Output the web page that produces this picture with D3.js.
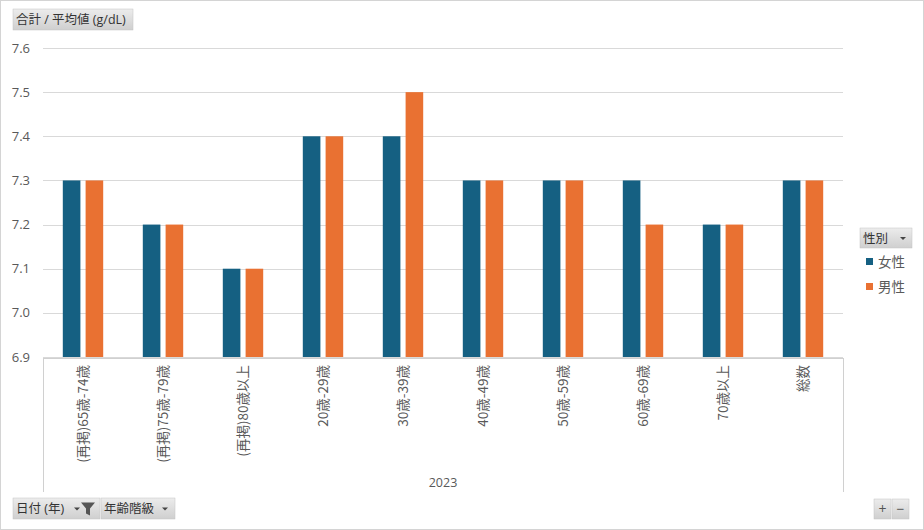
<!DOCTYPE html>
<html>
<head>
<meta charset="utf-8">
<script src="https://cdn.jsdelivr.net/npm/d3@7"></script>
<style>
  body { margin: 0; background: #fff; }
  svg { display: block; font-family: "Open Sans", "Noto Sans CJK JP", sans-serif; }
</style>
</head>
<body>
<div id="chart"></div>
<script>
// data
const categories = ["(再掲)65歳-74歳", "(再掲)75歳-79歳", "(再掲)80歳以上", "20歳-29歳", "30歳-39歳",
    "40歳-49歳", "50歳-59歳", "60歳-69歳", "70歳以上", "総数"];
const seriesNames = ["女性", "男性"];
const female = [7.3, 7.2, 7.1, 7.4, 7.4, 7.3, 7.3, 7.3, 7.2, 7.3];
const male = [7.3, 7.2, 7.1, 7.4, 7.5, 7.3, 7.3, 7.2, 7.2, 7.3];
const yTicks = [6.9, 7.0, 7.1, 7.2, 7.3, 7.4, 7.5, 7.6];
const yearLabel = "2023";

const width = 924, height = 530;
const colors = ["#156082", "#E97132"];

const svg = d3.select("#chart").append("svg")
    .attr("width", width)
    .attr("height", height);

const defs = svg.append("defs");
const grad = defs.append("linearGradient")
    .attr("id", "btn").attr("x1", 0).attr("y1", 0).attr("x2", 0).attr("y2", 1);
grad.append("stop").attr("offset", "0%").attr("stop-color", "#ececec");
grad.append("stop").attr("offset", "100%").attr("stop-color", "#cfcfcf");

// outer frame
svg.append("rect")
    .attr("x", 0.5).attr("y", 0.5)
    .attr("width", width - 1).attr("height", height - 1)
    .attr("fill", "#fff").attr("stroke", "#d4d4d4");

const plot = { left: 43, right: 843, top: 48, bottom: 357 };

const x = d3.scaleBand()
    .domain(categories)
    .range([plot.left, plot.right]);

const y = d3.scaleLinear()
    .domain([6.9, 7.6])
    .range([plot.bottom, plot.top]);

// gridlines
svg.append("g")
    .selectAll("line")
    .data(yTicks)
    .enter()
    .append("line")
    .attr("x1", plot.left).attr("x2", plot.right)
    .attr("y1", d => Math.round(y(d)) + 0.5)
    .attr("y2", d => Math.round(y(d)) + 0.5)
    .attr("stroke", "#d9d9d9");

// y axis labels
svg.append("g")
    .selectAll("text")
    .data(yTicks)
    .enter()
    .append("text")
    .attr("x", 30)
    .attr("y", d => y(d))
    .attr("dy", "0.35em")
    .attr("text-anchor", "end")
    .attr("font-size", 13)
    .attr("fill", "#595959")
    .text(d => d.toFixed(1));

// bars
const barW = 17.6, gap = 5.2;
const series = [female, male];
series.forEach((vals, si) => {
    svg.append("g")
        .selectAll("rect")
        .data(categories)
        .enter()
        .append("rect")
        .attr("x", (d, i) => x(d) + x.bandwidth() / 2 - gap / 2 - barW + si * (barW + gap))
        .attr("y", (d, i) => y(vals[i]))
        .attr("width", barW)
        .attr("height", (d, i) => y(6.9) - y(vals[i]))
        .attr("fill", colors[si]);
});

// category axis box
const axisBottom = 492;
const box = svg.append("g").attr("stroke", "#d0d0d0").attr("fill", "none");
box.append("line").attr("x1", plot.left).attr("x2", plot.right + 0.5)
    .attr("y1", plot.bottom + 1.5).attr("y2", plot.bottom + 1.5);
box.append("line").attr("x1", plot.left + 0.5).attr("x2", plot.left + 0.5)
    .attr("y1", plot.bottom + 1).attr("y2", axisBottom);
box.append("line").attr("x1", plot.right + 0.5).attr("x2", plot.right + 0.5)
    .attr("y1", plot.bottom + 1).attr("y2", axisBottom);

// category labels
svg.append("g")
    .selectAll("text")
    .data(categories)
    .enter()
    .append("text")
    .attr("transform", d => `translate(${x(d) + x.bandwidth() / 2},365) rotate(-90)`)
    .attr("text-anchor", "end")
    .attr("dy", "0.35em")
    .attr("font-family", "'Noto Sans CJK JP', sans-serif")
    .attr("font-size", 13.5)
    .attr("fill", "#595959")
    .text(d => d);

svg.append("text")
    .attr("x", (plot.left + plot.right) / 2)
    .attr("y", 487)
    .attr("text-anchor", "middle")
    .attr("font-size", 12.5)
    .attr("fill", "#595959")
    .text(yearLabel);

// field buttons
function button(bx, by, bw, bh, label, dropdown) {
    const g = svg.append("g");
    g.append("rect")
        .attr("x", bx).attr("y", by).attr("width", bw).attr("height", bh)
        .attr("fill", "url(#btn)").attr("stroke", "#c4c4c4").attr("stroke-width", 0.5);
    g.append("text")
        .attr("x", bx + 3).attr("y", by + bh / 2)
        .attr("dy", "0.36em")
        .attr("font-size", 12.5)
        .attr("fill", "#333")
        .text(label);
    if (dropdown != null) {
        g.append("path")
            .attr("d", `M${dropdown - 3},${by + bh / 2 - 1} h6 l-3,3 z`)
            .attr("fill", "#444");
    }
    return g;
}

button(13, 9, 120, 21, "合計 / 平均値 (g/dL)", null);
button(860, 228, 52, 20, "性別", 903);

const f = button(13, 498, 87, 21, "日付 (年)", 77);
f.append("path")
    .attr("d", "M81,502.5 h14 l-5,6 v7 l-4,-2 v-5 z")
    .attr("fill", "#555");
button(101, 498, 74, 21, "年齢階級", 165);

// legend
const legend = svg.append("g")
    .selectAll("g")
    .data(seriesNames)
    .enter()
    .append("g")
    .attr("transform", (d, i) => `translate(866,${262 + i * 25})`);
legend.append("rect")
    .attr("x", 0).attr("y", -4).attr("width", 7).attr("height", 7)
    .attr("fill", (d, i) => colors[i]);
legend.append("text")
    .attr("x", 12).attr("y", 0)
    .attr("dy", "0.35em")
    .attr("font-size", 13.5)
    .attr("fill", "#595959")
    .text(d => d);

// zoom buttons
[["+", 874], ["−", 892]].forEach(([t, bx]) => {
    svg.append("rect")
        .attr("x", bx).attr("y", 499).attr("width", 17).attr("height", 20)
        .attr("fill", "url(#btn)").attr("stroke", "#c4c4c4").attr("stroke-width", 0.5);
    svg.append("text")
        .attr("x", bx + 8.5).attr("y", 509)
        .attr("dy", "0.36em")
        .attr("text-anchor", "middle")
        .attr("font-size", 14)
        .attr("fill", "#555")
        .text(t);
});
</script>
</body>
</html>
